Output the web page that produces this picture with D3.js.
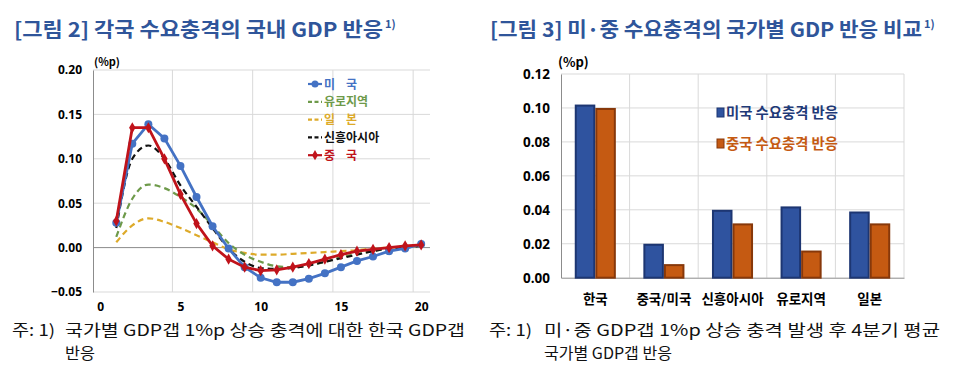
<!DOCTYPE html>
<html>
<head>
<meta charset="utf-8">
<script src="https://cdn.jsdelivr.net/npm/d3@7"></script>
<style>
  body { margin: 0; background: #fff; }
  text { font-family: "Noto Sans CJK KR", "Noto Sans", sans-serif; }
</style>
</head>
<body>
<div id="chart"></div>
<script>
// 그림 2: 분기 (1~20) 별 반응
var quarters = d3.range(1, 21);
var usResp    = [0.028, 0.117, 0.139, 0.123, 0.092, 0.057, 0.024, -0.001, -0.022, -0.034, -0.039, -0.039, -0.035, -0.029, -0.022, -0.015, -0.010, -0.004, -0.001, 0.004];
var euroResp  = [0.012, 0.055, 0.071, 0.067, 0.057, 0.044, 0.025, 0.005, -0.008, -0.016, -0.021, -0.022, -0.020, -0.016, -0.011, -0.007, -0.004, -0.001, 0.001, 0.002];
var japanResp = [0.006, 0.025, 0.033, 0.029, 0.022, 0.014, 0.006, -0.002, -0.006, -0.008, -0.008, -0.007, -0.006, -0.005, -0.004, -0.003, -0.001, 0.000, 0.001, 0.002];
var asiaResp  = [0.022, 0.100, 0.115, 0.100, 0.070, 0.046, 0.022, -0.001, -0.016, -0.023, -0.024, -0.023, -0.020, -0.016, -0.012, -0.008, -0.004, -0.001, 0.000, 0.002];
var chinaResp = [0.030, 0.135, 0.135, 0.100, 0.060, 0.027, 0.002, -0.013, -0.022, -0.026, -0.025, -0.022, -0.018, -0.013, -0.008, -0.004, -0.002, 0.000, 0.002, 0.003];
var lineTicksX = [0, 5, 10, 15, 20];
var lineTicksY = [-0.05, 0, 0.05, 0.10, 0.15, 0.20];

// 그림 3: 국가별 4분기 평균 반응
var countries = ["한국", "중국/미국", "신흥아시아", "유로지역", "일본"];
var usShock    = [0.102, 0.020, 0.040, 0.042, 0.039];
var chinaShock = [0.100, 0.008, 0.032, 0.016, 0.032];
var barTicksY = [0, 0.02, 0.04, 0.06, 0.08, 0.10, 0.12];

var width = 955, height = 366;
var svg = d3.select("#chart").append("svg")
  .attr("width", width).attr("height", height);

var titleColor = "#2f559a";
var grid = "#d9d9d9";

// ---------- titles ----------
function title(x, txt, len, supX) {
  svg.append("text").attr("x", x).attr("y", 37)
    .attr("font-size", 20).attr("font-weight", "bold")
    .attr("fill", titleColor)
    .attr("textLength", len).attr("lengthAdjust", "spacingAndGlyphs")
    .text(txt);
  svg.append("text").attr("x", supX).attr("y", 28)
    .attr("font-size", 11).attr("font-weight", "bold")
    .attr("fill", titleColor).text("1)");
}
title(14, "[그림 2] 각국 수요충격의 국내 GDP 반응", 369, 385);
title(490, "[그림 3] 미·중 수요충격의 국가별 GDP 반응 비교", 432, 924);

// ---------- left: line chart ----------
var x = d3.scaleLinear().domain([-0.45, 20.55]).range([93, 430]);
var y = d3.scaleLinear().domain([-0.05, 0.20]).range([292, 70]);

var g1 = svg.append("g");

// gridlines
g1.selectAll(".hg").data(lineTicksY.filter(function (d) { return d !== 0; }))
  .enter().append("line")
  .attr("x1", x(-0.45)).attr("x2", x(20.55))
  .attr("y1", function (d) { return y(d); }).attr("y2", function (d) { return y(d); })
  .attr("stroke", grid).attr("stroke-width", 1);
g1.selectAll(".vg").data([4.5, 9.5, 14.5, 19.5])
  .enter().append("line")
  .attr("x1", function (d) { return x(d); }).attr("x2", function (d) { return x(d); })
  .attr("y1", y(0.20)).attr("y2", y(-0.05))
  .attr("stroke", grid).attr("stroke-width", 1);

// y axis
g1.append("g").attr("transform", "translate(" + x(-0.45) + ",0)")
  .call(d3.axisLeft(y).tickValues(lineTicksY).tickFormat(d3.format(".2f")).tickSize(0).tickPadding(11))
  .call(function (s) {
    s.select(".domain").attr("stroke", "#8c8c8c");
    s.selectAll("text").attr("font-size", 12).attr("font-weight", "bold").attr("fill", "#000")
      .style("font-family", "'Open Sans', sans-serif");
  });
// x labels
g1.append("g").attr("transform", "translate(0," + y(-0.05) + ")")
  .call(d3.axisBottom(x).tickValues(lineTicksX).tickFormat(d3.format("d")).tickSize(0).tickPadding(10))
  .call(function (s) {
    s.select(".domain").remove();
    s.selectAll("text").attr("font-size", 12).attr("font-weight", "bold").attr("fill", "#000")
      .style("font-family", "'Open Sans', sans-serif");
  });
// zero line
g1.append("line").attr("x1", x(-0.45)).attr("x2", x(20.55))
  .attr("y1", y(0)).attr("y2", y(0)).attr("stroke", "#8c8c8c").attr("stroke-width", 1);

g1.append("text").attr("x", 94).attr("y", 66).attr("font-size", 11).attr("font-weight", "bold")
  .text("(%p)");

var series = [
  {name: "미    국", vals: usResp, color: "#4472c4", dash: null, marker: "circle", curve: d3.curveLinear},
  {name: "유로지역", vals: euroResp, color: "#6e9a4a", dash: "6,4", marker: null, curve: d3.curveMonotoneX},
  {name: "일    본", vals: japanResp, color: "#ddaa2a", dash: "6,4", marker: null, curve: d3.curveMonotoneX},
  {name: "신흥아시아", vals: asiaResp, color: "#111", dash: "6,4", marker: null, curve: d3.curveMonotoneX},
  {name: "중    국", vals: chinaResp, color: "#c0131b", dash: null, marker: "diamond", curve: d3.curveLinear}
];
var drawOrder = [2, 1, 3, 0, 4];

drawOrder.forEach(function (i) {
  var s = series[i];
  var line = d3.line()
    .x(function (d, j) { return x(quarters[j]); })
    .y(function (d) { return y(d); })
    .curve(s.curve);
  g1.append("path").datum(s.vals)
    .attr("d", line)
    .attr("fill", "none")
    .attr("stroke", s.color)
    .attr("stroke-width", s.marker ? 2.8 : 2.2)
    .attr("stroke-dasharray", s.dash);
  if (s.marker === "circle") {
    g1.selectAll(".m" + i).data(s.vals).enter().append("circle")
      .attr("cx", function (d, j) { return x(quarters[j]); })
      .attr("cy", function (d) { return y(d); })
      .attr("r", 4).attr("fill", s.color);
  } else if (s.marker === "diamond") {
    g1.selectAll(".m" + i).data(s.vals).enter().append("path")
      .attr("d", d3.symbol(d3.symbolDiamond, 36))
      .attr("transform", function (d, j) { return "translate(" + x(quarters[j]) + "," + y(d) + ")"; })
      .attr("fill", s.color);
  }
});

// legend
series.forEach(function (s, i) {
  var ly = 84 + i * 17.8;
  var lg = g1.append("g").attr("transform", "translate(308," + ly + ")");
  lg.append("line").attr("x1", 0).attr("x2", 14).attr("y1", 0).attr("y2", 0)
    .attr("stroke", s.color).attr("stroke-width", 2.2)
    .attr("stroke-dasharray", s.dash ? "4,2.5" : null);
  if (s.marker === "circle") lg.append("circle").attr("cx", 7).attr("r", 3.5).attr("fill", s.color);
  if (s.marker === "diamond") lg.append("path").attr("d", d3.symbol(d3.symbolDiamond, 30)).attr("transform", "translate(7,0)").attr("fill", s.color);
  lg.append("text").attr("x", 16).attr("y", 4.5).attr("font-size", 12).attr("font-weight", "bold")
    .attr("fill", s.color).attr("xml:space", "preserve").style("white-space", "pre").text(s.name);
});

// ---------- right: bar chart ----------
var x0 = d3.scaleBand().domain(countries).range([561, 904]).padding(0);
var x1 = d3.scaleBand().domain(["us", "cn"]).range([0, x0.bandwidth()]).paddingInner(0).paddingOuter(0.67);
var y2 = d3.scaleLinear().domain([0, 0.12]).range([277.7, 74]);

var g2 = svg.append("g");
g2.selectAll(".hg").data(barTicksY.filter(function (d) { return d > 0; }))
  .enter().append("line")
  .attr("x1", 561).attr("x2", 904)
  .attr("y1", function (d) { return y2(d); }).attr("y2", function (d) { return y2(d); })
  .attr("stroke", grid);
g2.selectAll(".vg").data(countries.slice(1))
  .enter().append("line")
  .attr("x1", function (d) { return x0(d); }).attr("x2", function (d) { return x0(d); })
  .attr("y1", y2(0.12)).attr("y2", y2(0))
  .attr("stroke", grid);
g2.append("line").attr("x1", 904).attr("x2", 904).attr("y1", y2(0.12)).attr("y2", y2(0)).attr("stroke", grid);

g2.append("g").attr("transform", "translate(561,0)")
  .call(d3.axisLeft(y2).tickValues(barTicksY).tickFormat(d3.format(".2f")).tickSize(0).tickPadding(11))
  .call(function (s) {
    s.select(".domain").attr("stroke", "#8c8c8c");
    s.selectAll("text").attr("font-size", 13.5).attr("font-weight", "bold").attr("fill", "#000")
      .style("font-family", "'Open Sans', sans-serif");
  });
g2.append("g").attr("transform", "translate(0," + y2(0) + ")")
  .call(d3.axisBottom(x0).tickSize(0).tickPadding(17))
  .call(function (s) {
    s.select(".domain").attr("stroke", "#8c8c8c");
    s.selectAll("text").attr("font-size", 13.5).attr("font-weight", "bold").attr("fill", "#000");
  });

g2.append("text").attr("x", 558).attr("y", 67).attr("font-size", 13).attr("font-weight", "bold")
  .text("(%p)");

var barSeries = [
  {key: "us", vals: usShock, fill: "#2f539f", stroke: "#1d3672"},
  {key: "cn", vals: chinaShock, fill: "#c55a12", stroke: "#87380a"}
];
barSeries.forEach(function (bs) {
  g2.selectAll(".b" + bs.key).data(bs.vals).enter().append("rect")
    .attr("x", function (d, i) { return x0(countries[i]) + x1(bs.key) + 1; })
    .attr("y", function (d) { return y2(d) + 1; })
    .attr("width", x1.bandwidth() - 2)
    .attr("height", function (d) { return y2(0) - y2(d) - 1; })
    .attr("fill", bs.fill)
    .attr("stroke", bs.stroke)
    .attr("stroke-width", 2);
});

var barLegend = [
  {label: "미국 수요충격 반응", fill: "#2f539f", stroke: "#1d3672", text: "#1f3a78"},
  {label: "중국 수요충격 반응", fill: "#c55a12", stroke: "#87380a", text: "#c55a12"}
];
barLegend.forEach(function (l, i) {
  var ly = 118 + i * 31;
  g2.append("rect").attr("x", 717).attr("y", ly - 10).attr("width", 7).attr("height", 9)
    .attr("fill", l.fill).attr("stroke", l.stroke).attr("stroke-width", 1);
  g2.append("text").attr("x", 726).attr("y", ly).attr("font-size", 14.5).attr("font-weight", "bold")
    .attr("fill", l.text).attr("textLength", 112).attr("lengthAdjust", "spacingAndGlyphs")
    .text(l.label);
});

// ---------- notes ----------
function note(xs, xb, line1, len1, line2, len2) {
  var t = svg.append("text").attr("font-size", 16).attr("fill", "#111");
  t.append("tspan").attr("x", xs).attr("y", 336)
    .attr("textLength", 43).attr("lengthAdjust", "spacingAndGlyphs").text("주: 1)");
  t.append("tspan").attr("x", xb).attr("y", 336)
    .attr("textLength", len1).attr("lengthAdjust", "spacingAndGlyphs").text(line1);
  var t2 = svg.append("text").attr("font-size", 16).attr("fill", "#111");
  t2.append("tspan").attr("x", xb).attr("y", 359)
    .attr("textLength", len2).attr("lengthAdjust", "spacingAndGlyphs").text(line2);
}
note(12, 65, "국가별 GDP갭 1%p 상승 충격에 대한 한국 GDP갭", 400, "반응", 30);
note(489, 544, "미·중 GDP갭 1%p 상승 충격 발생 후 4분기 평균", 396, "국가별 GDP갭 반응", 128);
</script>
</body>
</html>
